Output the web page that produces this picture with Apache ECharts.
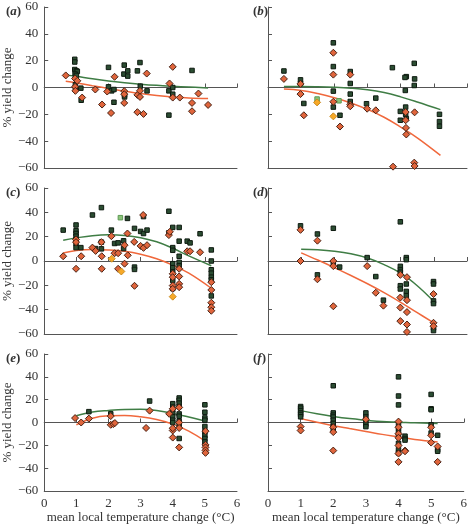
<!DOCTYPE html>
<html><head><meta charset="utf-8">
<script src="https://cdn.jsdelivr.net/npm/echarts@6/dist/echarts.min.js"></script>
<style>html,body{margin:0;padding:0;background:#fff}#c{width:470px;height:525px}</style>
</head><body><div id="c"></div>
<script>
// ---- data ----
const panelLetters = ['a','b','c','d','e','f'];
const xTicks = [0,1,2,3,4,5,6];
const yTicks = [-60,-40,-20,0,20,40,60];

const aSquares = [[0.95,21],[0.95,19],[0.95,13.4],[1.0,12.4],[1.03,12],[0.96,10],[1.0,9],[0.97,2],[0.97,0],[0.98,-1],[1.14,-0.5],[1.15,-9.5],[2.0,15],[2.0,0.5],[2.1,-2.5],[2.17,-1.5],[2.17,-11],[2.49,16.7],[2.48,10],[2.6,12.4],[2.6,8.5],[2.5,-5.7],[2.5,-7],[2.9,12.4],[2.98,18.6],[2.99,1],[3.2,-2.5],[3.88,-2.5],[3.88,-20.6],[4.0,0],[4.0,-5],[4.6,12.7]];
const aDiamonds = [[0.67,9],[0.96,6.7],[1.03,5],[0.96,0.5],[0.97,-2.5],[1.18,-7.5],[1.59,-1.5],[1.8,-12.7],[1.96,-3],[2.08,-19],[2.19,8],[2.49,-2.7],[2.49,-5],[2.49,-11.5],[2.9,-5.5],[2.9,-18.4],[2.98,-2.5],[2.98,-7],[3.09,-19.7],[3.19,10.4],[3.9,3],[4.0,15.4],[4.0,-7.5],[4.22,-7.5],[4.6,-11.5],[4.6,-17.7],[4.8,-4.5],[5.1,-13]];
const aGreenFit = [[0.67,9.4],[1,8.3],[1.5,6.5],[2,4.9],[2.5,3.6],[3,2.5],[3.5,1.6],[4,0.9],[4.5,0.3],[5.1,-0.3]];
const aOrangeFit = [[0.67,4.7],[1,3.4],[1.5,1.3],[2,-0.7],[2.5,-2.7],[3,-4.5],[3.5,-5.9],[4,-7.0],[4.5,-7.8],[5.1,-8.2]];

const bSquares = [[0.48,12.3],[0.98,5.7],[0.98,3],[1.08,-11.9],[1.97,33.3],[1.97,15.6],[1.97,-2.7],[1.97,-14.6],[2.17,-20.7],[2.48,11.9],[2.48,3],[2.48,-4.9],[2.48,-10.4],[2.97,-12.1],[3.25,-7.9],[3.75,14.8],[3.99,-17.8],[3.99,-24.4],[4.14,-2.2],[4.17,8.1],[4.13,7.5],[4.15,-14.6],[4.15,-20],[4.17,-23.2],[4.41,18],[4.42,6.4],[4.41,1.5],[5.17,-20],[5.17,-25.4],[5.17,-28.9]];
const bLightSquares = [[1.48,-8.6],[2.14,-9.9]];
const bDiamonds = [[0.48,6.4],[0.98,2.7],[0.98,-4.9],[1.08,-20.7],[1.97,25.9],[1.97,9.6],[1.97,-10.6],[2.17,-29.1],[2.48,9.6],[2.48,-12.8],[2.48,-14],[2.99,-15.8],[3.25,-17],[3.77,-59],[4.15,-18.3],[4.15,-24.4],[4.16,-30.1],[4.17,-35],[4.42,-18.5],[4.41,-56],[4.42,-58.5]];
const bYellowDiamonds = [[1.48,-11.1],[1.97,-21.5]];
const bGreenFit = [[0.48,0.7],[1,0.8],[1.5,0.6],[2,0.2],[2.5,-0.5],[3,-1.7],[3.5,-3.8],[4,-7.0],[4.5,-10.8],[5.2,-16.5]];
const bOrangeFit = [[0.48,-1.2],[1,-2.2],[1.5,-4.5],[2,-7.6],[2.5,-11.5],[3,-16.3],[3.5,-22.2],[4,-29.5],[4.5,-37.5],[5.2,-50.6]];

const cSquares = [[0.59,25.4],[0.99,29.6],[0.99,24.9],[0.99,22.6],[0.99,20.4],[0.99,17.7],[0.99,14.4],[0.99,11],[1.14,11],[1.5,37.8],[1.6,10.2],[1.78,43.9],[1.78,15.5],[1.78,10],[2.09,25.4],[2.19,14.4],[2.3,14.9],[2.59,35],[2.47,16.6],[2.47,10.2],[2.81,26.8],[2.81,-5],[2.81,-6.9],[3.0,24.3],[3.09,22.6],[3.2,25.4],[3.09,36.5],[3.88,40.9],[3.88,23.2],[4.0,27.6],[4.0,11],[4.0,8.8],[4.0,-2.2],[4.0,-5.5],[4.0,-9],[4.0,-16],[4.0,-22.6],[4.2,27.6],[4.2,16.3],[4.2,3.9],[4.2,-1.1],[4.2,-4],[4.45,16.3],[4.54,14.9],[4.85,22.4],[5.2,9.1],[5.2,0],[5.2,-7.2],[5.2,-10],[5.2,-13.3],[5.2,-15.5],[5.2,-28.7]];
const cLightSquares = [[2.37,35.6]];
const cDiamonds = [[0.59,3.9],[0.99,17.7],[0.99,15.5],[0.99,-6.4],[1.15,3.9],[1.5,11],[1.6,8.3],[1.79,3.9],[1.79,-6.4],[1.78,15.5],[2.09,20.4],[2.19,6.4],[2.3,6.4],[2.3,-6.4],[2.5,13],[2.5,-2.2],[2.59,22.6],[2.6,4.7],[2.8,15.7],[2.81,-20.4],[3.0,12.4],[3.09,10.8],[3.2,13],[3.08,37.8],[3.88,21.3],[3.91,24],[4.0,-10.5],[4.0,-13.3],[4.0,-20.2],[4.0,-22.9],[4.2,-6.4],[4.2,-12.7],[4.2,-18.8],[4.2,-21.5],[4.45,8],[4.54,8],[4.85,7.2],[5.2,-17.4],[5.2,-23.8],[5.2,-34.3],[5.2,-38],[5.2,-40.9]];
const cYellowDiamonds = [[2.1,1.9],[2.4,-8.6],[4.0,-29.3]];
const cGreenFit = [[0.59,17.1],[1,19],[1.5,20.8],[2,21.5],[2.5,21],[3,19.2],[3.5,15.8],[4,10.5],[4.5,4.2],[5.2,-3.9]];
const cOrangeFit = [[0.59,6.6],[1,8.6],[1.5,9.4],[2,9.1],[2.5,8],[3,5.6],[3.5,1.8],[4,-3.4],[4.5,-10],[5.2,-22.4]];

const dSquares = [[0.98,28.9],[1.49,22.2],[1.49,-11.4],[1.97,26.9],[1.97,-1.4],[2.16,-5],[2.99,2.8],[3.25,-12.8],[3.48,-32.2],[3.99,32.2],[3.99,-4.4],[3.99,-7.3],[3.99,-9.2],[3.99,-20.3],[3.99,-23],[4.17,2.8],[4.17,1.1],[4.17,-18.9],[4.17,-25],[4.17,-28.5],[4.99,-16.9],[4.99,-18.9],[4.99,-32.8],[4.99,-35],[4.99,-55],[4.99,-57.2]];
const dDiamonds = [[0.98,25.6],[0.98,0],[1.49,16.7],[1.49,-15],[1.97,0],[1.97,-4.2],[1.97,-37.2],[2.99,-4.2],[3.25,-26.1],[3.48,-36.7],[3.99,-11.4],[3.99,-30],[3.99,-38.3],[3.99,-49.4],[4.19,-13.3],[4.19,-32.2],[4.19,-42],[4.19,-52.2],[4.19,-58.3],[4.99,-27.2],[4.99,-50.8],[4.99,-53.6]];
const dGreenFit = [[1,9.7],[1.5,9.2],[2,8],[2.5,5.9],[3,2.4],[3.5,-3],[4,-10],[4.5,-20.3],[5,-33.3]];
const dOrangeFit = [[1,6.7],[1.5,0.8],[2,-5.4],[2.5,-11.9],[3,-18.7],[3.5,-26],[4,-34],[4.5,-42.5],[5,-50.8]];

const eSquares = [[1.39,9.5],[2.07,7.6],[3.28,18.8],[4.0,16.5],[4.0,13.5],[4.0,11],[4.0,8],[4.0,5],[4.0,2],[4.0,0],[4.2,21.5],[4.2,19.5],[4.2,17],[4.2,14],[4.2,7.5],[4.2,5.5],[4.2,1],[4.2,-3],[4.2,-14],[5.0,15.5],[5.0,9],[5.0,4],[5.0,2],[5.0,-3.5],[5.0,-8],[5.0,-11.5],[5.0,-14],[5.0,-17]];
const eDiamonds = [[0.96,3.9],[1.15,0],[1.39,3.4],[2.07,-2],[2.15,-1.4],[2.2,-0.5],[2.07,5.6],[3.17,-4.8],[3.28,10.4],[3.89,7.6],[4.0,12],[4.0,-7],[4.0,-13.2],[4.0,-5],[4.2,13.2],[4.2,0],[4.2,-4.8],[4.2,-21.8],[5.02,-7.6],[5.02,-19.6],[5.02,-21.8],[5.02,-24.4],[5.02,-26.6]];
const eGreenFit = [[1,5.9],[1.5,9.2],[2,10.6],[2.5,11.4],[3,11.5],[3.5,10.5],[4,8],[4.5,4.8],[5,1.4]];
const eOrangeFit = [[1,-2],[1.5,3.8],[2,5.9],[2.5,6.2],[3,5],[3.5,2.6],[4,-1.4],[4.5,-7.6],[5,-16.2]];

const fSquares = [[1,14],[1,12.6],[1,10.4],[1,8.4],[1,7],[1,5],[2,32.2],[2,8.4],[2,6.4],[2,4.8],[2,2],[2,-0.8],[2,-3.6],[2,-5.6],[3,8.4],[3,4.8],[3,1.4],[3,-1.4],[3,-3.6],[4,40],[4,23.2],[4,15.4],[4,-0.8],[4,-4.8],[4,-8.4],[4,-11.5],[4,-18.2],[4,-23.8],[4,-26.6],[4.2,-12],[4.2,-14],[4.2,-15.4],[5,24.6],[5,12],[5,11.2],[5,-2],[5,-9.2],[5.2,-11.2],[5.2,-23.8],[5.2,-25.2]];
const fDiamonds = [[1,-3.6],[1,-7],[2,-4.2],[2,-8.4],[2,-24.6],[3,2.8],[4,0.8],[4,-4.2],[4,-9.8],[4,-13.4],[4,-20.2],[4,-27.2],[4,-34.5],[4.2,-24.6],[4.2,-25.2],[5,-4.2],[5,-11.2],[5,-17.6],[5.2,-21],[5.2,-34.5]];
const fGreenFit = [[1,10.4],[1.5,7.6],[2,5.3],[2.5,3.4],[3,2],[3.5,0.8],[4,0.3],[4.5,-0.3],[5.2,-0.8]];
const fOrangeFit = [[1,3.4],[1.5,0.3],[2,-2.8],[2.5,-5.3],[3,-7.8],[3.5,-10.4],[4,-12.6],[4.5,-14.8],[5.2,-17]];

const panels = [
  {sq:aSquares, di:aDiamonds, gf:aGreenFit, of:aOrangeFit},
  {sq:bSquares, di:bDiamonds, lsq:bLightSquares, ydi:bYellowDiamonds, gf:bGreenFit, of:bOrangeFit},
  {sq:cSquares, di:cDiamonds, lsq:cLightSquares, ydi:cYellowDiamonds, gf:cGreenFit, of:cOrangeFit},
  {sq:dSquares, di:dDiamonds, gf:dGreenFit, of:dOrangeFit},
  {sq:eSquares, di:eDiamonds, gf:eGreenFit, of:eOrangeFit},
  {sq:fSquares, di:fDiamonds, gf:fGreenFit, of:fOrangeFit}
];

// ---- layout / style ----
const FONT = '"Liberation Serif", "DejaVu Serif", serif';
const AX = '#555';
const colLeft = [40, 268], colW = [197, 199];
const rowTop = [7, 188, 354], rowH = [161, 146, 142];
const GREEN_LINE = '#3f7d45', ORANGE_LINE = '#f0683c';

const grids = [], xAxes = [], yAxes = [], series = [], titles = [];
panels.forEach((p, i) => {
  const row = Math.floor(i / 2), col = i % 2;
  grids.push({left: colLeft[col], top: rowTop[row], width: colW[col], height: rowH[row]});
  const bottomRow = row === 2;
  // bottom axis
  xAxes.push({gridIndex:i, type:'value', min:xTicks[0], max:xTicks[xTicks.length-1], interval:1, position:'bottom',
    axisLine:{onZero:false, lineStyle:{color:AX, width:1}}, axisTick:{show:false}, splitLine:{show:false},
    axisLabel:{show:bottomRow, margin:6, color:'#333', fontFamily:FONT, fontSize:13},
    name: bottomRow ? 'mean local temperature change (°C)' : '', nameLocation:'middle', nameGap:20,
    nameTextStyle:{color:'#333', fontFamily:FONT, fontSize:13}});
  // zero line axis
  xAxes.push({gridIndex:i, type:'value', min:xTicks[0], max:xTicks[xTicks.length-1], interval:1, position:'bottom',
    axisLine:{onZero:true, lineStyle:{color:AX, width:1}}, axisTick:{show:true, inside:true, length:4, lineStyle:{color:AX}},
    axisLabel:{show:false}, splitLine:{show:false}});
  yAxes.push({gridIndex:i, type:'value', min:yTicks[0], max:yTicks[yTicks.length-1], interval:20,
    axisLine:{onZero:false, lineStyle:{color:AX, width:1}}, axisTick:{show:true, inside:true, length:4, lineStyle:{color:AX}},
    splitLine:{show:false},
    axisLabel:{show:col===0, margin:6, color:'#333', fontFamily:FONT, fontSize:13,
      formatter: v => v < 0 ? '\u2212' + (-v) : String(v)},
    name: col===0 ? '% yield change' : '', nameLocation:'middle', nameGap:22,
    nameTextStyle:{color:'#333', fontFamily:FONT, fontSize:13}});
  const xi = i * 2, yi = i;
  const lineS = (data, color) => ({type:'line', xAxisIndex:xi, yAxisIndex:yi, data, smooth:0.4, showSymbol:false,
    symbol:'none', lineStyle:{color, width:1.5}, silent:true, z:2});
  series.push(lineS(p.gf, GREEN_LINE));
  series.push(lineS(p.of, ORANGE_LINE));
  const sc = (data, symbol, size, fill, border) => ({type:'scatter', xAxisIndex:xi, yAxisIndex:yi, data, symbol, symbolSize:size,
    itemStyle:{color:fill, borderColor:border, borderWidth:1, opacity:1}, z:3});
  series.push(sc(p.sq, 'rect', 4.5, '#2b4d32', '#0e1a10'));
  if (p.lsq) series.push(sc(p.lsq, 'rect', 4.5, '#8cc47a', '#5f9a55'));
  series.push(sc(p.di, 'diamond', 7, '#e0653c', '#4a2315'));
  if (p.ydi) series.push(sc(p.ydi, 'diamond', 7, '#f7a928', '#c98a20'));
  titles.push({text:'{p|(}{i|' + panelLetters[i] + '}{p|)}',
    left: col===0 ? 1 : 248, top: rowTop[row] - 7,
    textStyle:{rich:{p:{fontFamily:FONT, fontSize:13, color:'#333'}, i:{fontFamily:FONT, fontSize:13, fontStyle:'italic', color:'#333'}}}});
});

const chart = echarts.init(document.getElementById('c'), null, {renderer:'canvas'});
chart.setOption({animation:false, backgroundColor:'#fff', title:titles, grid:grids, xAxis:xAxes, yAxis:yAxes, series});
</script></body></html>
